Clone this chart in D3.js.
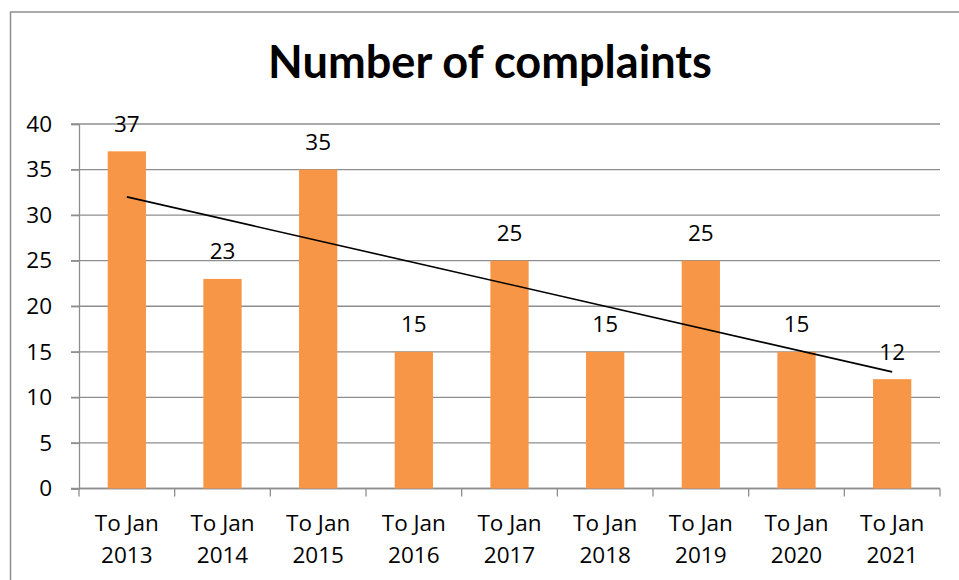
<!DOCTYPE html>
<meta charset="utf-8">
<title>Number of complaints</title>
<style>
  body { margin: 0; background: #fff; }
  text { font-family: "Open Sans", Lato, sans-serif; fill: #000; }
</style>
<body>
<script src="https://d3js.org/d3.v7.min.js"></script>
<script>

// data
var categories = ["To Jan 2013", "To Jan 2014", "To Jan 2015", "To Jan 2016", "To Jan 2017",
                  "To Jan 2018", "To Jan 2019", "To Jan 2020", "To Jan 2021"];
var complaints = [37, 23, 35, 15, 25, 15, 25, 15, 12];
var trendEnds = [32.0, 12.8];   // trend line value at first and last category
var yTicks = [0, 5, 10, 15, 20, 25, 30, 35, 40];

var width = 959,
    height = 580,
    plotLeft = 79, plotRight = 940,
    plotTop = 124, plotBottom = 488.5,
    gridColor = "#8e8e8e",
    barColor = "#f79646",
    labelSize = "22.5px";

var svg = d3.select("body").append("svg")
  .attr("width", width)
  .attr("height", height);

// outer chart border (runs off the right and bottom edges)
svg.append("rect")
  .attr("x", 10.5).attr("y", 12)
  .attr("width", 1200).attr("height", 1200)
  .attr("fill", "none")
  .attr("stroke", gridColor)
  .attr("stroke-width", 1.5);

var x = d3.scaleBand()
  .domain(categories)
  .range([plotLeft, plotRight])
  .paddingInner(0.6)
  .paddingOuter(0.3);

var y = d3.scaleLinear()
  .domain([0, 40])
  .range([plotBottom, plotTop]);

// title, fitted to the reference width
var title = svg.append("text")
  .attr("x", 490).attr("y", 78)
  .attr("text-anchor", "middle")
  .style("font-family", "Lato, 'Open Sans', sans-serif")
  .style("font-weight", "bold")
  .style("font-size", "40px")
  .text("Number of complaints");
var tw = title.node().getComputedTextLength();
title.style("font-size", (40 * 444 / tw) + "px");

// gridlines
svg.append("g").selectAll("line")
  .data(yTicks)
  .join("line")
  .attr("x1", plotLeft - 8).attr("x2", plotRight)
  .attr("y1", d => y(d)).attr("y2", d => y(d))
  .attr("stroke", gridColor)
  .attr("stroke-width", 1.3);

// y axis
var yAxis = svg.append("g")
  .attr("transform", "translate(" + plotLeft + ",0)")
  .call(d3.axisLeft(y).tickValues(yTicks).tickSize(8).tickPadding(19));
yAxis.select(".domain").attr("stroke", gridColor).attr("stroke-width", 1.3);
yAxis.selectAll(".tick line").attr("stroke", gridColor).attr("stroke-width", 1.3);
yAxis.selectAll(".tick text")
  .attr("fill", "#000")
  .style("font-size", labelSize)
  .style("font-family", "'Open Sans', Lato, sans-serif");

// x axis: ticks on category boundaries
var boundaries = d3.range(categories.length + 1).map(i => plotLeft + i * x.step());
var xAxis = svg.append("g");
xAxis.append("line")
  .attr("x1", plotLeft).attr("x2", plotRight)
  .attr("y1", plotBottom).attr("y2", plotBottom)
  .attr("stroke", gridColor).attr("stroke-width", 1.3);
xAxis.selectAll("line.tk")
  .data(boundaries)
  .join("line")
  .attr("class", "tk")
  .attr("x1", d => d).attr("x2", d => d)
  .attr("y1", plotBottom).attr("y2", plotBottom + 8)
  .attr("stroke", gridColor).attr("stroke-width", 1.3);

var xl = svg.append("g").selectAll("text")
  .data(categories)
  .join("text")
  .attr("text-anchor", "middle")
  .style("font-size", labelSize);
xl.append("tspan")
  .attr("x", d => x(d) + x.bandwidth() / 2)
  .attr("y", 531)
  .text(d => d.slice(0, 6));
xl.append("tspan")
  .attr("x", d => x(d) + x.bandwidth() / 2)
  .attr("y", 563)
  .text(d => d.slice(7));

// bars
svg.append("g").selectAll("rect")
  .data(complaints)
  .join("rect")
  .attr("x", (d, i) => x(categories[i]))
  .attr("y", d => y(d))
  .attr("width", x.bandwidth())
  .attr("height", d => y(0) - y(d))
  .attr("fill", barColor);

// value labels
svg.append("g").selectAll("text")
  .data(complaints)
  .join("text")
  .attr("x", (d, i) => x(categories[i]) + x.bandwidth() / 2)
  .attr("y", d => y(d) - 19.5)
  .attr("text-anchor", "middle")
  .style("font-size", labelSize)
  .text(d => d);

// linear trend line
var first = categories[0], last = categories[categories.length - 1];
svg.append("line")
  .attr("x1", x(first) + x.bandwidth() / 2)
  .attr("y1", y(trendEnds[0]))
  .attr("x2", x(last) + x.bandwidth() / 2)
  .attr("y2", y(trendEnds[1]))
  .attr("stroke", "#000")
  .attr("stroke-width", 1.6);

</script>
</body>
</html>
